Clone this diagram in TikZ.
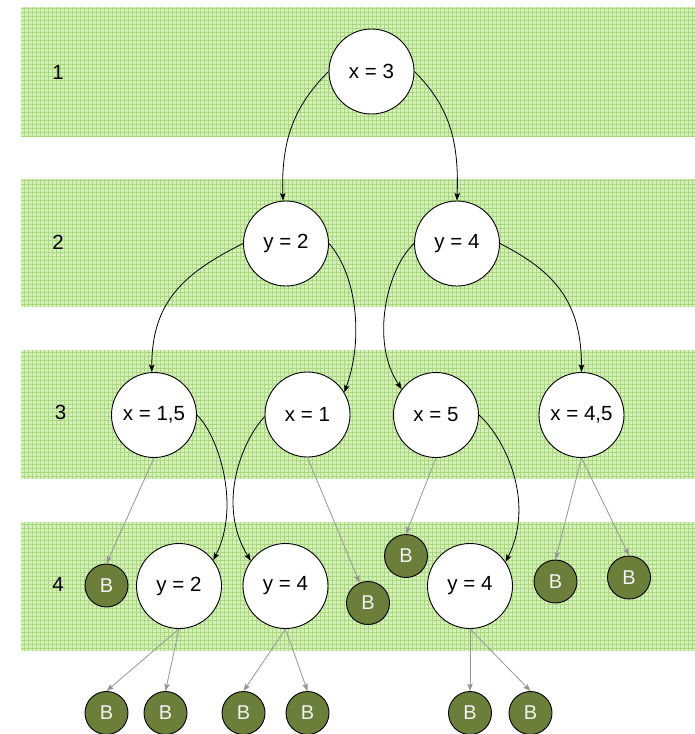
\documentclass[tikz,border=0pt]{standalone}
\usepackage{fontspec}
\setmainfont{Liberation Sans}
\usetikzlibrary{arrows.meta}

\definecolor{bandfill}{RGB}{214,240,188}
\definecolor{bandline}{RGB}{170,216,126}
\definecolor{leaffill}{RGB}{107,126,58}
\definecolor{leaftext}{RGB}{242,242,242}
\definecolor{thinarrow}{RGB}{150,150,150}

\tikzset{
  decision/.style={circle, draw=black, line width=0.9pt, fill=white,
    minimum size=85pt, inner sep=0pt, font=\fontsize{20.5}{24}\selectfont},
  leaf/.style={circle, draw=black, line width=0.9pt, fill=leaffill,
    text=leaftext, minimum size=43pt, inner sep=0pt,
    font=\fontsize{20}{23}\selectfont},
  levellabel/.style={inner sep=0pt, font=\fontsize{20.5}{24}\selectfont},
  branch/.style={draw=black, line width=0.8pt,
    -{Stealth[length=7.5pt,width=5.5pt,inset=1.5pt]}},
  toleaf/.style={draw=thinarrow, line width=0.8pt,
    -{Stealth[length=7.5pt,width=5.5pt,inset=1.5pt]}},
}

\newcommand{\levelband}[2]{%
  \fill[bandfill] (21,-#1) rectangle (695,-#2);
  \draw[bandline, line width=0.7pt] (21,-#1) grid[step=4] (695,-#2);
}

\begin{document}
\begin{tikzpicture}[x=1pt, y=1pt]
  \useasboundingbox (0,0) rectangle (695,-734);
  \fill[white] (0,0) rectangle (695,-734);

  % level bands
  \levelband{7}{137}
  \levelband{179}{307}
  \levelband{350}{479}
  \levelband{522}{651}

  % level numbers
  \node[levellabel] (lv1) at (58,-72) {1};
  \node[levellabel] (lv2) at (58,-242) {2};
  \node[levellabel] (lv3) at (60.5,-412.5) {3};
  \node[levellabel] (lv4) at (58,-584) {4};

  % decision nodes
  \node[decision] (x3)  at (371.5,-71.5) {x = 3};
  \node[decision] (y2)  at (286,-243.5)  {y = 2};
  \node[decision] (y4)  at (457,-243.5)  {y = 4};
  \node[decision] (x15) at (154,-415)    {x = 1,5};
  \node[decision] (x1)  at (307.5,-414.5) {x = 1};
  \node[decision] (x5)  at (436,-415)    {x = 5};
  \node[decision] (x45) at (581.5,-415)  {x = 4,5};
  \node[decision] (ya)  at (179,-586)    {y = 2};
  \node[decision] (yb)  at (285.5,-586)  {y = 4};
  \node[decision] (yc)  at (470,-586)    {y = 4};

  % leaves
  \node[leaf] (b1) at (106.5,-585.5) {B};
  \node[leaf] (b2) at (368,-603)     {B};
  \node[leaf] (b3) at (406,-556)     {B};
  \node[leaf] (b4) at (555.5,-581.5) {B};
  \node[leaf] (b5) at (629,-577.5)   {B};
  \node[leaf] (b6) at (106.5,-713)   {B};
  \node[leaf] (b7) at (165.5,-713)   {B};
  \node[leaf] (b8) at (243.5,-713)   {B};
  \node[leaf] (b9) at (307.5,-713)   {B};
  \node[leaf] (b10) at (470,-713)    {B};
  \node[leaf] (b11) at (530.5,-713)  {B};

  % curved branches
  \draw[branch] (x3.180) .. controls +(-35,-35) and +(-2,60) .. (y2.94);
  \draw[branch] (x3.0) .. controls +(35,-35) and +(2,60) .. (y4.90);
  \draw[branch] (y2.180) .. controls +(-60,-30) and +(0,70) .. (x15.93);
  \draw[branch] (y2.0) .. controls +(27,-30) and +(20,55) .. (x1.31);
  \draw[branch] (y4.180) .. controls +(-27,-25) and +(-32,48) .. (x5.143);
  \draw[branch] (y4.0) .. controls +(55,-28) and +(0,70) .. (x45.90);
  \draw[branch] (x15.0) .. controls +(21,-20) and +(28,55) .. (ya.37);
  \draw[branch] (x1.183) .. controls +(-22,-23) and +(-35,57) .. (yb.144);
  \draw[branch] (x5.0) .. controls +(26,-23) and +(30,60) .. (yc.34);

  % straight edges to leaves
  \draw[toleaf] (x15.south) -- (b1.north);
  \draw[toleaf] (x1.south) -- (b2);
  \draw[toleaf] (x5.south) -- (b3.north);
  \draw[toleaf] (x45.south) -- (b4.north);
  \draw[toleaf] (x45.south) -- (b5.north);
  \draw[toleaf] (ya.south) -- (b6.north);
  \draw[toleaf] (ya.south) -- (b7.north);
  \draw[toleaf] (yb.south) -- (b8.north);
  \draw[toleaf] (yb.south) -- (b9.north);
  \draw[toleaf] (yc.south) -- (b10.north);
  \draw[toleaf] (yc.south) -- (b11.north);
\end{tikzpicture}
\end{document}
